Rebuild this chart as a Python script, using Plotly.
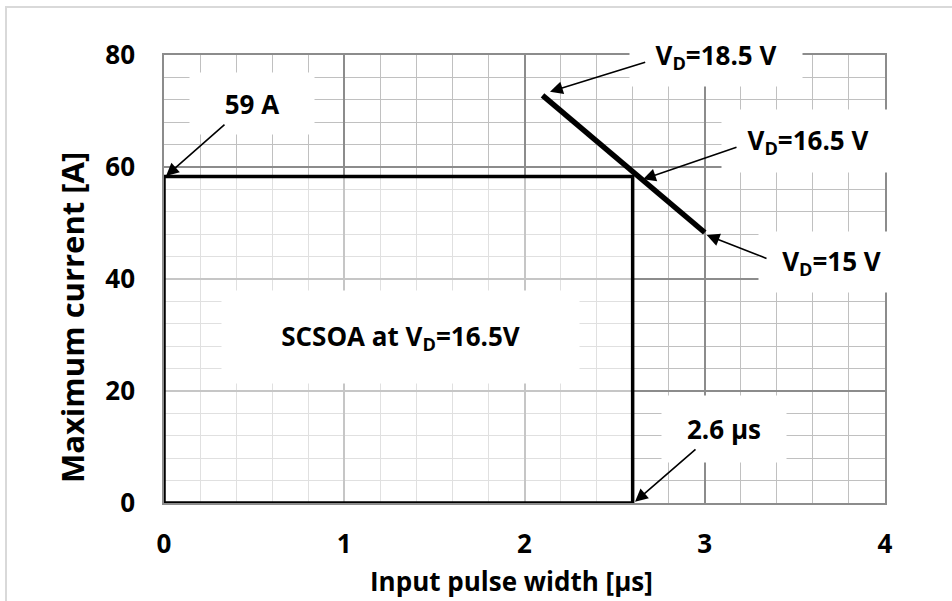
import plotly.graph_objects as go

# ---- data ----
soa_x = [0, 0, 2.6, 2.6, 0]
soa_y = [0, 58.3, 58.3, 0, 0]
limit_x = [2.1, 3.0]
limit_y = [72.8, 48.3]
x_ticks = [0, 1, 2, 3, 4]
y_ticks = [0, 20, 40, 60, 80]

FONT = "Open Sans"
W, H = 952, 601
L, R, T, B = 164, 67, 55, 98
PW, PH = W - L - R, H - T - B


def dx(px):
    return (px - L) / PW * 4.0


def dy(py):
    return (H - B - py) / PH * 80.0


def paper_x(px):
    return (px - L) / PW


def paper_y(py):
    return (H - B - py) / PH


fig = go.Figure()
fig.add_trace(go.Scatter(x=soa_x, y=soa_y, mode="lines",
                         line=dict(color="black", width=3.5),
                         hoverinfo="skip", showlegend=False))
fig.add_trace(go.Scatter(x=limit_x, y=limit_y, mode="lines",
                         line=dict(color="black", width=5.5),
                         hoverinfo="skip", showlegend=False))

# semi-transparent white inside the SOA box (lightens grid)
fig.add_shape(type="rect", x0=soa_x[0], x1=soa_x[2], y0=soa_y[0], y1=soa_y[1],
              xref="x", yref="y", line=dict(width=0),
              fillcolor="rgba(255,255,255,0.5)", layer="between")

# outer chart border (left + top), open path
border = "M {:.5f},{:.5f} L {:.5f},{:.5f} L {:.5f},{:.5f}".format(
    paper_x(6), paper_y(640), paper_x(6), paper_y(7), paper_x(1000), paper_y(7))
fig.add_shape(type="path", path=border, xref="paper", yref="paper",
              line=dict(color="#d9d9d9", width=2), fillcolor="rgba(0,0,0,0)")

afont = dict(family=FONT, size=26, color="black", weight="bold")

labels = [
    ("59 A", 252, 103, 124, 61),
    ("V<sub>D</sub>=18.5 V", 716, 56, 172, 60),
    ("V<sub>D</sub>=16.5 V", 808, 141, 172, 62),
    ("V<sub>D</sub>=15 V", 831, 262, 145, 60),
    ("2.6 µs", 724, 429, 124, 66),
    ("SCSOA at V<sub>D</sub>=16.5V", 400, 337, 357, 92),
]
for txt, cx, cy, w, h in labels:
    fig.add_annotation(x=dx(cx), y=dy(cy), xref="x", yref="y", text=txt,
                       showarrow=False, bgcolor="white", width=w, height=h,
                       borderpad=0, font=afont, xanchor="center", yanchor="middle")

arrows = [
    ((646.7, 61.7), (550, 91.7)),
    ((738, 146.7), (643, 179.3)),
    ((768, 259), (706.7, 235)),
    ((226, 123.3), (166, 176)),
    ((697, 448), (635, 501.7)),
]
for (tx, ty), (hx, hy) in arrows:
    fig.add_annotation(x=dx(hx), y=dy(hy), ax=dx(tx), ay=dy(ty),
                       xref="x", yref="y", axref="x", ayref="y", text="",
                       showarrow=True, arrowhead=2, arrowsize=1.6,
                       arrowwidth=1.6, arrowcolor="black", standoff=0)

# axis titles
fig.add_annotation(x=paper_x(511), y=paper_y(581), xref="paper", yref="paper",
                   text="Input pulse width [µs]", showarrow=False,
                   font=dict(family=FONT, size=26, color="black", weight="bold"),
                   xanchor="center", yanchor="middle")
fig.add_annotation(x=paper_x(72), y=paper_y(318), xref="paper", yref="paper",
                   text="Maximum current [A]", showarrow=False,
                   font=dict(family=FONT, size=31, color="black", weight="bold"),
                   textangle=-90, xanchor="center", yanchor="middle")

tickfont = dict(family=FONT, size=26, color="black", weight="bold")
fig.update_xaxes(range=[0, 4], tickvals=x_ticks, ticktext=[str(v) for v in x_ticks],
                 showgrid=True, gridcolor="#8c8c8c", gridwidth=1.5,
                 minor=dict(dtick=0.2, showgrid=True, gridcolor="#c0c0c0", gridwidth=1),
                 showline=True, linecolor="#8c8c8c", linewidth=1.5, mirror=True,
                 zeroline=False, ticks="", tickfont=tickfont, ticklabelstandoff=17)
fig.update_yaxes(range=[0, 80], tickvals=y_ticks, ticktext=[str(v) for v in y_ticks],
                 showgrid=True, gridcolor="#8c8c8c", gridwidth=1.5,
                 minor=dict(dtick=4, showgrid=True, gridcolor="#c0c0c0", gridwidth=1),
                 showline=True, linecolor="#8c8c8c", linewidth=1.5, mirror=True,
                 zeroline=False, ticks="", tickfont=tickfont, ticklabelstandoff=22)

fig.update_layout(width=W, height=H, margin=dict(l=L, r=R, t=T, b=B),
                  paper_bgcolor="white", plot_bgcolor="white",
                  font=dict(family=FONT, color="black"), showlegend=False)

fig.write_html("out.html", config={"displayModeBar": False},
               post_script="document.body.style.margin='0px';"
                           "document.body.style.overflow='hidden';")
